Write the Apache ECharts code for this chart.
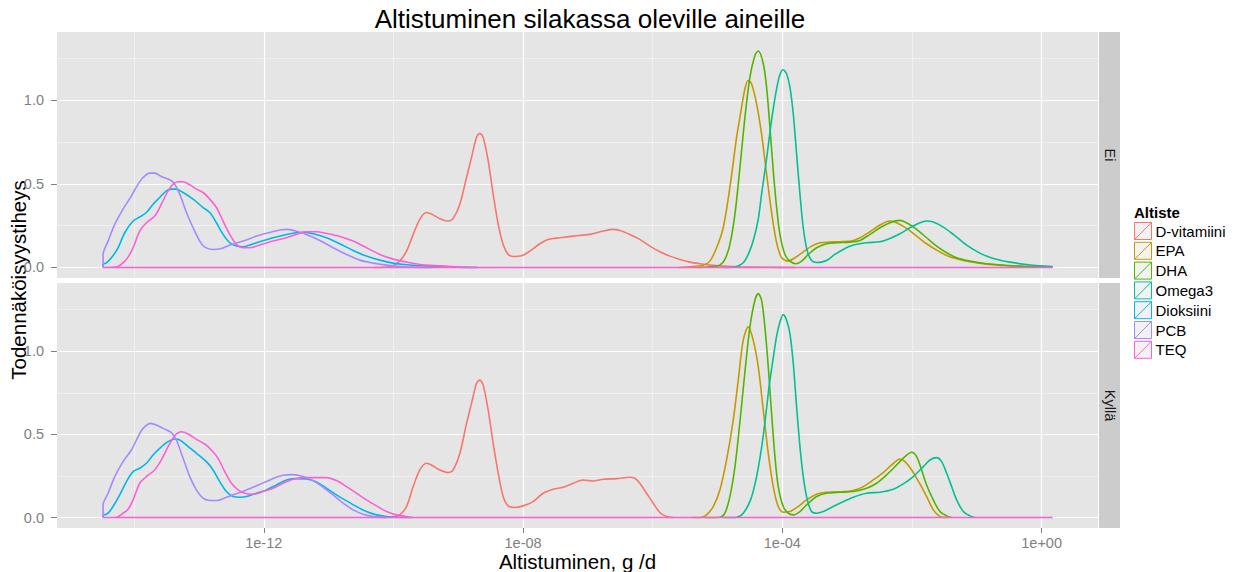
<!DOCTYPE html>
<html><head><meta charset="utf-8">
<script src="https://cdn.jsdelivr.net/npm/echarts@6/dist/echarts.min.js"></script>
<style>html,body{margin:0;padding:0;background:#fff}#c{width:1241px;height:572px}</style>
</head><body><div id="c"></div><script>
// ---- data (x = log10 of exposure in g/d, y = probability density) ----
const substances = ['D-vitamiini','EPA','DHA','Omega3','Dioksiini','PCB','TEQ'];
const colors = ['#F8766D','#C49A00','#53B400','#00C094','#00B6EB','#A58AFF','#FB61D7'];
const panels = ['Ei','Kyllä'];
const xTicks = [-12, -8, -4, 0];
const yTicks = [0, 0.5, 1.0];
const dataRange = [-14.48, 0.17];

// Panel "Ei"
const ei_Dvitamiini = [[-14.48,0],[-10.3,0],[-10.1,0.003],[-10.0,0.012],[-9.90,0.040],[-9.798,0.098],[-9.695,0.198],[-9.593,0.288],[-9.490,0.329],[-9.387,0.315],[-9.284,0.292],[-9.155,0.278],[-9.078,0.294],[-8.975,0.379],[-8.872,0.539],[-8.795,0.659],[-8.718,0.779],[-8.667,0.803],[-8.615,0.779],[-8.538,0.639],[-8.461,0.439],[-8.383,0.258],[-8.307,0.138],[-8.230,0.078],[-8.152,0.066],[-8.024,0.070],[-7.895,0.098],[-7.741,0.142],[-7.612,0.168],[-7.432,0.178],[-7.226,0.188],[-6.969,0.198],[-6.763,0.218],[-6.609,0.228],[-6.506,0.222],[-6.352,0.198],[-6.198,0.168],[-6.043,0.128],[-5.889,0.094],[-5.735,0.068],[-5.580,0.048],[-5.426,0.032],[-5.272,0.022],[-5.117,0.014],[-4.912,0.008],[-4.654,0.004],[-4.2,0.001],[-3.8,0],[0.17,0]];
const ei_EPA = [[-14.48,0],[-5.6,0],[-5.374,0.006],[-5.220,0.014],[-5.117,0.038],[-5.014,0.118],[-4.912,0.238],[-4.809,0.479],[-4.706,0.779],[-4.654,0.900],[-4.577,1.070],[-4.526,1.120],[-4.475,1.100],[-4.397,0.980],[-4.320,0.799],[-4.243,0.560],[-4.166,0.330],[-4.089,0.150],[-4.012,0.060],[-3.909,0.038],[-3.805,0.058],[-3.677,0.094],[-3.548,0.128],[-3.420,0.148],[-3.265,0.152],[-3.111,0.154],[-2.931,0.158],[-2.802,0.178],[-2.648,0.214],[-2.494,0.254],[-2.340,0.278],[-2.237,0.268],[-2.082,0.234],[-1.928,0.188],[-1.774,0.142],[-1.619,0.104],[-1.465,0.072],[-1.311,0.052],[-1.105,0.034],[-0.848,0.020],[-0.591,0.012],[-0.333,0.006],[-0.076,0.004],[0.17,0.002]];
const ei_DHA = [[-14.48,0],[-5.3,0],[-5.066,0.006],[-4.963,0.014],[-4.886,0.048],[-4.809,0.138],[-4.731,0.319],[-4.654,0.599],[-4.577,0.899],[-4.500,1.140],[-4.423,1.270],[-4.371,1.296],[-4.294,1.220],[-4.243,1.080],[-4.191,0.839],[-4.140,0.579],[-4.088,0.359],[-4.037,0.198],[-3.960,0.078],[-3.883,0.038],[-3.790,0.022],[-3.702,0.038],[-3.599,0.078],[-3.471,0.118],[-3.317,0.142],[-3.163,0.148],[-2.957,0.152],[-2.802,0.162],[-2.648,0.198],[-2.494,0.238],[-2.340,0.268],[-2.185,0.282],[-2.057,0.262],[-1.928,0.228],[-1.774,0.178],[-1.619,0.128],[-1.465,0.088],[-1.311,0.058],[-1.105,0.038],[-0.848,0.022],[-0.591,0.014],[-0.333,0.008],[0.17,0.004]];
const ei_Omega3 = [[-14.48,0],[-4.9,0],[-4.706,0.006],[-4.603,0.028],[-4.526,0.078],[-4.449,0.160],[-4.371,0.290],[-4.320,0.440],[-4.243,0.650],[-4.191,0.810],[-4.140,0.950],[-4.088,1.070],[-4.037,1.155],[-3.986,1.184],[-3.934,1.160],[-3.883,1.080],[-3.831,0.919],[-3.780,0.679],[-3.728,0.439],[-3.677,0.238],[-3.615,0.098],[-3.548,0.042],[-3.471,0.030],[-3.394,0.032],[-3.292,0.048],[-3.189,0.078],[-3.060,0.108],[-2.905,0.134],[-2.700,0.148],[-2.494,0.154],[-2.340,0.174],[-2.185,0.202],[-2.031,0.238],[-1.877,0.268],[-1.774,0.278],[-1.671,0.272],[-1.516,0.242],[-1.362,0.198],[-1.156,0.134],[-0.951,0.086],[-0.745,0.054],[-0.488,0.032],[-0.230,0.018],[0.027,0.008],[0.17,0.006]];
const ei_Dioksiini = [[-14.479,0],[-14.479,0.018],[-14.428,0.028],[-14.351,0.058],[-14.248,0.118],[-14.145,0.208],[-14.016,0.278],[-13.914,0.302],[-13.811,0.329],[-13.708,0.379],[-13.605,0.419],[-13.502,0.459],[-13.425,0.469],[-13.348,0.469],[-13.245,0.449],[-13.091,0.409],[-12.936,0.359],[-12.833,0.329],[-12.730,0.268],[-12.628,0.198],[-12.525,0.148],[-12.422,0.128],[-12.319,0.124],[-12.216,0.134],[-12.062,0.154],[-11.856,0.178],[-11.650,0.198],[-11.496,0.208],[-11.393,0.210],[-11.239,0.202],[-11.033,0.178],[-10.827,0.142],[-10.621,0.102],[-10.416,0.068],[-10.210,0.044],[-10.004,0.026],[-9.798,0.016],[-9.593,0.010],[-9.284,0.004],[-9.0,0.001],[-8.7,0],[0.17,0]];
const ei_PCB = [[-14.479,0],[-14.479,0.078],[-14.402,0.158],[-14.299,0.258],[-14.171,0.349],[-14.042,0.429],[-13.939,0.499],[-13.862,0.539],[-13.759,0.565],[-13.682,0.565],[-13.580,0.545],[-13.425,0.519],[-13.374,0.499],[-13.296,0.439],[-13.193,0.329],[-13.091,0.238],[-12.988,0.158],[-12.911,0.122],[-12.782,0.108],[-12.653,0.114],[-12.499,0.138],[-12.319,0.158],[-12.113,0.188],[-11.907,0.210],[-11.727,0.226],[-11.624,0.228],[-11.470,0.214],[-11.342,0.198],[-11.136,0.162],[-10.930,0.118],[-10.724,0.078],[-10.519,0.044],[-10.313,0.026],[-10.107,0.014],[-9.901,0.006],[-9.696,0.002],[-9.4,0],[0.17,0]];
const ei_TEQ = [[-14.479,0],[-14.274,0.004],[-14.171,0.028],[-14.094,0.062],[-14.016,0.118],[-13.914,0.218],[-13.811,0.268],[-13.682,0.308],[-13.580,0.379],[-13.476,0.459],[-13.399,0.499],[-13.322,0.513],[-13.245,0.513],[-13.142,0.495],[-13.039,0.469],[-12.936,0.449],[-12.833,0.409],[-12.730,0.359],[-12.628,0.278],[-12.525,0.198],[-12.422,0.138],[-12.319,0.118],[-12.216,0.118],[-12.062,0.134],[-11.856,0.158],[-11.650,0.178],[-11.496,0.198],[-11.342,0.214],[-11.187,0.214],[-11.033,0.204],[-10.827,0.186],[-10.621,0.158],[-10.416,0.118],[-10.210,0.078],[-10.004,0.050],[-9.798,0.032],[-9.593,0.018],[-9.284,0.010],[-9.0,0.004],[-8.7,0.001],[-8.4,0],[0.17,0]];

// Panel "Kyllä"
const kylla_Dvitamiini = [[-14.48,0],[-10.2,0],[-10.0,0.005],[-9.901,0.016],[-9.798,0.066],[-9.695,0.186],[-9.593,0.286],[-9.490,0.326],[-9.387,0.310],[-9.284,0.286],[-9.155,0.270],[-9.078,0.286],[-8.975,0.386],[-8.872,0.566],[-8.795,0.686],[-8.718,0.806],[-8.667,0.826],[-8.615,0.796],[-8.538,0.646],[-8.461,0.446],[-8.383,0.266],[-8.307,0.126],[-8.230,0.070],[-8.126,0.060],[-7.998,0.070],[-7.844,0.096],[-7.689,0.146],[-7.535,0.170],[-7.381,0.182],[-7.226,0.206],[-7.072,0.226],[-6.918,0.220],[-6.763,0.230],[-6.558,0.234],[-6.352,0.242],[-6.276,0.236],[-6.198,0.206],[-6.095,0.146],[-5.992,0.086],[-5.889,0.030],[-5.786,0.006],[-5.683,0],[0.17,0]];
const kylla_EPA = [[-14.48,0],[-5.4,0],[-5.246,0.002],[-5.169,0.016],[-5.066,0.066],[-4.963,0.166],[-4.860,0.346],[-4.757,0.586],[-4.680,0.826],[-4.603,1.066],[-4.526,1.146],[-4.449,1.066],[-4.371,0.906],[-4.294,0.646],[-4.217,0.386],[-4.140,0.186],[-4.063,0.066],[-3.986,0.032],[-3.883,0.036],[-3.755,0.066],[-3.626,0.106],[-3.471,0.140],[-3.317,0.152],[-3.111,0.154],[-2.905,0.162],[-2.751,0.186],[-2.597,0.226],[-2.443,0.270],[-2.314,0.316],[-2.185,0.352],[-2.108,0.336],[-2.005,0.286],[-1.877,0.202],[-1.774,0.126],[-1.671,0.046],[-1.568,0.006],[-1.465,0],[0.17,0]];
const kylla_DHA = [[-14.48,0],[-5.2,0],[-4.963,0.002],[-4.886,0.026],[-4.809,0.126],[-4.731,0.306],[-4.654,0.576],[-4.577,0.876],[-4.500,1.146],[-4.423,1.306],[-4.371,1.346],[-4.320,1.306],[-4.269,1.146],[-4.217,0.906],[-4.166,0.626],[-4.114,0.366],[-4.063,0.186],[-3.986,0.066],[-3.909,0.026],[-3.831,0.016],[-3.728,0.036],[-3.626,0.076],[-3.471,0.126],[-3.317,0.146],[-3.111,0.152],[-2.905,0.156],[-2.700,0.176],[-2.546,0.206],[-2.391,0.256],[-2.237,0.316],[-2.108,0.366],[-2.005,0.392],[-1.928,0.366],[-1.851,0.286],[-1.774,0.196],[-1.671,0.106],[-1.568,0.036],[-1.465,0.010],[-1.388,0],[0.17,0]];
const kylla_Omega3 = [[-14.48,0],[-4.9,0],[-4.706,0.002],[-4.603,0.026],[-4.490,0.106],[-4.400,0.240],[-4.320,0.420],[-4.260,0.600],[-4.200,0.800],[-4.140,0.960],[-4.088,1.090],[-4.037,1.175],[-3.986,1.220],[-3.934,1.186],[-3.883,1.106],[-3.831,0.926],[-3.780,0.666],[-3.728,0.426],[-3.677,0.246],[-3.615,0.106],[-3.548,0.036],[-3.471,0.026],[-3.368,0.036],[-3.265,0.056],[-3.111,0.086],[-2.905,0.122],[-2.700,0.146],[-2.494,0.152],[-2.288,0.170],[-2.134,0.202],[-1.980,0.246],[-1.825,0.306],[-1.722,0.346],[-1.619,0.360],[-1.542,0.336],[-1.465,0.266],[-1.388,0.186],[-1.311,0.106],[-1.208,0.036],[-1.105,0.010],[-1.028,0],[0.17,0]];
const kylla_Dioksiini = [[-14.479,0],[-14.479,0.010],[-14.402,0.026],[-14.325,0.066],[-14.222,0.136],[-14.119,0.216],[-14.016,0.276],[-13.914,0.296],[-13.811,0.326],[-13.708,0.376],[-13.605,0.416],[-13.476,0.456],[-13.374,0.472],[-13.296,0.466],[-13.193,0.436],[-13.039,0.386],[-12.885,0.336],[-12.782,0.286],[-12.679,0.216],[-12.576,0.156],[-12.473,0.126],[-12.370,0.122],[-12.267,0.126],[-12.113,0.146],[-11.959,0.166],[-11.805,0.196],[-11.650,0.226],[-11.496,0.234],[-11.342,0.232],[-11.187,0.214],[-11.033,0.176],[-10.879,0.136],[-10.724,0.100],[-10.570,0.066],[-10.416,0.036],[-10.261,0.016],[-10.107,0.006],[-9.953,0.002],[-9.7,0],[0.17,0]];
const kylla_PCB = [[-14.479,0],[-14.479,0.076],[-14.402,0.146],[-14.299,0.246],[-14.171,0.336],[-14.042,0.406],[-13.939,0.486],[-13.862,0.536],[-13.744,0.566],[-13.656,0.556],[-13.553,0.536],[-13.425,0.510],[-13.348,0.466],[-13.245,0.356],[-13.142,0.246],[-13.039,0.166],[-12.936,0.116],[-12.833,0.102],[-12.730,0.102],[-12.576,0.122],[-12.370,0.150],[-12.165,0.182],[-11.959,0.216],[-11.805,0.242],[-11.702,0.254],[-11.547,0.258],[-11.393,0.246],[-11.239,0.222],[-11.084,0.182],[-10.930,0.136],[-10.776,0.086],[-10.621,0.046],[-10.467,0.020],[-10.313,0.006],[-10.107,0],[0.17,0]];
const kylla_TEQ = [[-14.479,0],[-14.274,0.002],[-14.171,0.026],[-14.094,0.050],[-14.016,0.106],[-13.914,0.206],[-13.811,0.246],[-13.682,0.286],[-13.580,0.346],[-13.476,0.426],[-13.374,0.492],[-13.271,0.516],[-13.168,0.502],[-13.039,0.470],[-12.911,0.442],[-12.808,0.406],[-12.705,0.356],[-12.602,0.276],[-12.499,0.206],[-12.396,0.166],[-12.293,0.146],[-12.165,0.140],[-12.010,0.156],[-11.856,0.176],[-11.702,0.206],[-11.547,0.230],[-11.393,0.240],[-11.239,0.240],[-11.033,0.240],[-10.879,0.222],[-10.724,0.186],[-10.570,0.146],[-10.416,0.106],[-10.261,0.070],[-10.107,0.036],[-9.953,0.016],[-9.798,0.006],[-9.696,0],[0.17,0]];

// ---- build ----
const panelSeries = [
  [ei_Dvitamiini, ei_EPA, ei_DHA, ei_Omega3, ei_Dioksiini, ei_PCB, ei_TEQ],
  [kylla_Dvitamiini, kylla_EPA, kylla_DHA, kylla_Omega3, kylla_Dioksiini, kylla_PCB, kylla_TEQ]
];
// drop the flat zero stretches at the ends (they lie under the TEQ outline anyway)
function trimZeros(d) {
  let a = 0, b = d.length - 1;
  while (a < b - 1 && d[a][1] === 0 && d[a + 1][1] === 0) a++;
  while (b > a + 1 && d[b][1] === 0 && d[b - 1][1] === 0) b--;
  return d.slice(a, b + 1);
}
const FONT = "'Liberation Sans', Arial, sans-serif";
const grids = [
  {left: 57, right: 143, top: 32, height: 246},
  {left: 57, right: 143, top: 283, height: 245}
];
const fmtX = v => '1e' + (v < 0 ? '-' : '+') + String(Math.abs(v)).padStart(2, '0');

const xAxes = grids.map((g, i) => ({
  type: 'value', gridIndex: i, min: -15.19, max: 0.87, minInterval: 4, maxInterval: 4,
  axisLine: {show: false, onZero: false},
  axisTick: {show: i === 1, customValues: xTicks, length: 5, lineStyle: {color: '#7F7F7F', width: 1}},
  axisLabel: {show: i === 1, customValues: xTicks, formatter: fmtX, color: '#7F7F7F', fontSize: 14.5, fontFamily: FONT, margin: 7},
  splitLine: {show: true, lineStyle: {color: '#FFFFFF', width: 1.2}},
  minorTick: {show: false, splitNumber: 2},
  minorSplitLine: {show: true, lineStyle: {color: '#F2F2F2', width: 0.8}}
}));
const yAxes = grids.map((g, i) => ({
  type: 'value', gridIndex: i, min: -0.063, max: 1.41, minInterval: 0.5, maxInterval: 0.5,
  axisLine: {show: false, onZero: false},
  axisTick: {show: true, customValues: yTicks, length: 6, lineStyle: {color: '#7F7F7F', width: 1}},
  axisLabel: {customValues: yTicks, formatter: v => v.toFixed(1), color: '#7F7F7F', fontSize: 14.5, fontFamily: FONT, margin: 13},
  splitLine: {show: true, lineStyle: {color: '#FFFFFF', width: 1.2}},
  minorTick: {show: false, splitNumber: 2},
  minorSplitLine: {show: true, lineStyle: {color: '#F2F2F2', width: 0.8}}
}));

const series = [];
const last = substances.length - 1;
panelSeries.forEach((list, p) => {
  list.forEach((d, i) => {
    // TEQ is drawn last with its full outline: curve, then back along the baseline
    const pts = i === last
      ? d.concat([[dataRange[1] - 0.03, 0], [dataRange[0], 0]])
      : trimZeros(d);
    series.push({
      type: 'line', name: substances[i], xAxisIndex: p, yAxisIndex: p, data: pts, z: i === last ? 3 : 2,
      symbol: 'none', showSymbol: false, smooth: 0.3,
      lineStyle: {color: colors[i], width: 1.6}, itemStyle: {color: colors[i]},
      silent: true, animation: false
    });
  });
});

const graphics = [];
grids.forEach((g, i) => {
  graphics.push({type: 'rect', shape: {x: 1099, y: g.top, width: 21, height: g.height}, style: {fill: '#CCCCCC'}, silent: true});
  graphics.push({type: 'text', x: 1109.5, y: g.top + g.height / 2, rotation: -Math.PI / 2,
    style: {text: panels[i], fill: '#1A1A1A', font: '14.5px ' + FONT, align: 'center', verticalAlign: 'middle'}, silent: true});
});
graphics.push({type: 'text', x: 590, y: 19, style: {text: 'Altistuminen silakassa oleville aineille', fill: '#000', font: '26px ' + FONT, align: 'center', verticalAlign: 'middle'}});
graphics.push({type: 'text', x: 577.5, y: 561, style: {text: 'Altistuminen, g /d', fill: '#000', font: '20.5px ' + FONT, align: 'center', verticalAlign: 'middle'}});
graphics.push({type: 'text', x: 18, y: 280, rotation: Math.PI / 2, style: {text: 'Todennäköisyystiheys', fill: '#000', font: '20.5px ' + FONT, align: 'center', verticalAlign: 'middle'}});
graphics.push({type: 'text', x: 1134, y: 212, style: {text: 'Altiste', fill: '#000', font: 'bold 15px ' + FONT, align: 'left', verticalAlign: 'middle'}});

const chart = echarts.init(document.getElementById('c'), null, {renderer: 'svg', width: 1241, height: 572});
chart.setOption({
  animation: false,
  backgroundColor: '#FFFFFF',
  grid: grids.map(g => Object.assign({show: true, backgroundColor: '#E5E5E5', borderWidth: 0}, g)),
  xAxis: xAxes,
  yAxis: yAxes,
  legend: {
    data: substances.map((n, i) => ({name: n, itemStyle: {color: '#F2F2F2', borderColor: colors[i], borderWidth: 1}})),
    orient: 'vertical', left: 1134, top: 222, padding: 0,
    icon: 'path://M0,0L20,0L20,20L0,20ZM0,20L20,0',
    itemWidth: 19, itemHeight: 17, itemGap: 1.8, selectedMode: false,
    textStyle: {color: '#000', fontSize: 15, fontFamily: FONT, lineHeight: 17, padding: [0, 0, 0, -2]}
  },
  graphic: graphics,
  series: series
});
</script></body></html>
